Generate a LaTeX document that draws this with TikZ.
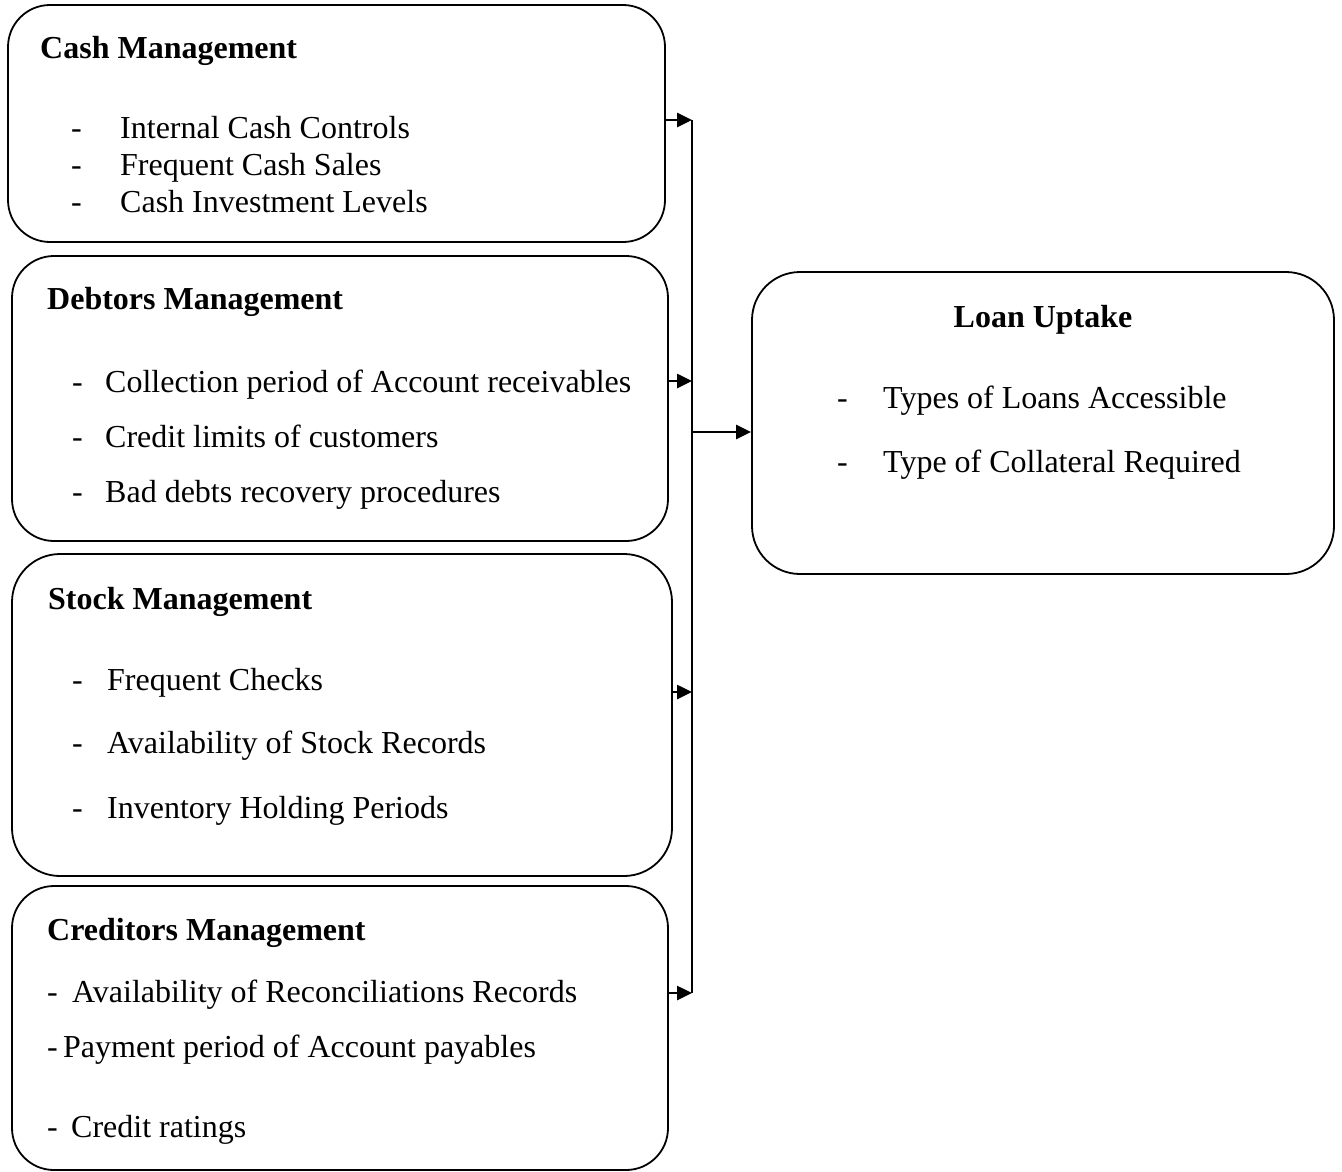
\documentclass[tikz,border=0pt]{standalone}
\usepackage{fontspec}
\setmainfont{Liberation Serif}
\usetikzlibrary{arrows.meta}
\begin{document}
\begin{tikzpicture}[x=1pt,y=-1pt,
  box/.style={draw, line width=1.8pt, rounded corners=42pt, inner sep=0pt},
  txt/.style={anchor=base west, inner sep=0pt, font=\fontsize{32}{38}\selectfont},
  hd/.style={txt, font=\fontsize{32}{38}\selectfont\bfseries},
  arr/.style={line width=2.6pt, -{Triangle[length=15pt,width=14pt]}},
  ln/.style={line width=2.6pt}]
\useasboundingbox (0,0) rectangle (1342,1171);
% boxes
\node[box, minimum width=657pt, minimum height=237pt] (cash) at (336.5,123.5) {};
\node[box, minimum width=656pt, minimum height=285pt] (debt) at (340,398.5) {};
\node[box, minimum width=660pt, minimum height=322pt, rounded corners=48pt] (stock) at (342,715) {};
\node[box, minimum width=656pt, minimum height=284pt] (cred) at (340,1028) {};
\node[box, minimum width=582pt, minimum height=302pt, rounded corners=48pt] (loan) at (1043,423) {};
% cash text
\node[hd] (c0) at (40,58) {Cash Management};
\node[txt] (c1d) at (71,138) {-};
\node[txt] (c1) at (120,138) {Internal Cash Controls};
\node[txt] (c2d) at (71,175) {-};
\node[txt] (c2) at (120,175) {Frequent Cash Sales};
\node[txt] (c3d) at (71,212) {-};
\node[txt] (c3) at (120,212) {Cash Investment Levels};
% debtors text
\node[hd] (d0) at (47,309) {Debtors Management};
\node[txt] (d1d) at (72,392) {-};
\node[txt] (d1) at (105,392) {Collection period of Account receivables};
\node[txt] (d2d) at (72,447) {-};
\node[txt] (d2) at (105,447) {Credit limits of customers};
\node[txt] (d3d) at (72,502) {-};
\node[txt] (d3) at (105,502) {Bad debts recovery procedures};
% stock text
\node[hd] (s0) at (48,609) {Stock Management};
\node[txt] (s1d) at (72,690) {-};
\node[txt] (s1) at (107,690) {Frequent Checks};
\node[txt] (s2d) at (72,753) {-};
\node[txt] (s2) at (107,753) {Availability of Stock Records};
\node[txt] (s3d) at (72,818) {-};
\node[txt] (s3) at (107,818) {Inventory Holding Periods};
% creditors text
\node[hd] (r0) at (47,940) {Creditors Management};
\node[txt] (r1d) at (47,1002) {-};
\node[txt] (r1) at (72,1002) {Availability of Reconciliations Records};
\node[txt] (r2d) at (47,1057) {-};
\node[txt] (r2) at (63,1057) {Payment period of Account payables};
\node[txt] (r3d) at (47,1137) {-};
\node[txt] (r3) at (71,1137) {Credit ratings};
% loan text
\node[hd, anchor=base] (l0) at (1043,327) {Loan Uptake};
\node[txt] (l1d) at (837,408) {-};
\node[txt] (l1) at (883,408) {Types of Loans Accessible};
\node[txt] (l2d) at (837,472) {-};
\node[txt] (l2) at (883,472) {Type of Collateral Required};
% connectors
\coordinate (j1) at (692,120);
\coordinate (j2) at (692,381);
\coordinate (j3) at (692,692);
\coordinate (j4) at (692,993);
\coordinate (jm) at (692,432);
\draw[arr] (cash.east |- j1) -- (j1);
\draw[arr] (debt.east |- j2) -- (j2);
\draw[arr] (stock.east |- j3) -- (j3);
\draw[arr] (cred.east |- j4) -- (j4);
\draw[ln] (j1) -- (j4);
\draw[arr] (jm) -- (loan.west |- jm);
\end{tikzpicture}
\end{document}
